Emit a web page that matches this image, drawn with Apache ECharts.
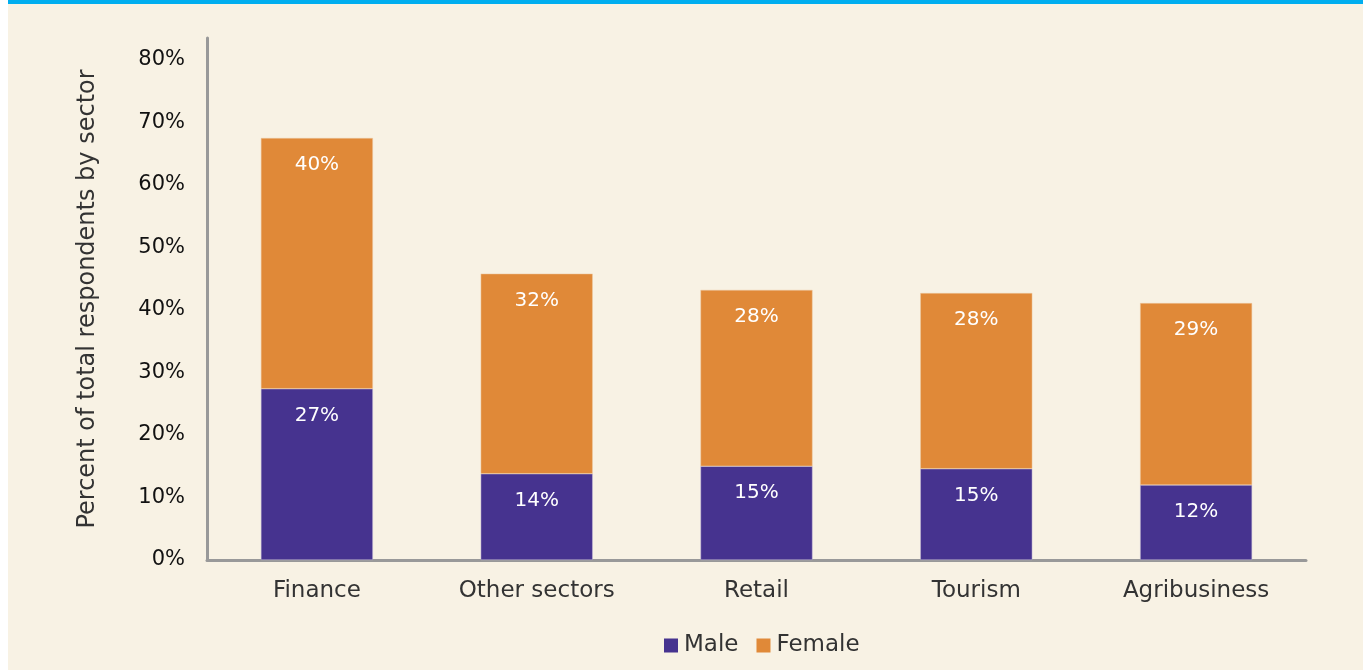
<!DOCTYPE html>
<html>
<head>
<meta charset="utf-8">
<script src="https://cdn.jsdelivr.net/npm/echarts@6/dist/echarts.min.js"></script>
<style>
  html, body { margin: 0; padding: 0; background: #ffffff; }
  #chart { position: absolute; left: 8px; top: 0; width: 1355px; height: 670px; background: #f8f2e4; }
</style>
</head>
<body>
<div id="chart"></div>
<script>
// 数据
const sectors = ["Finance", "Other sectors", "Retail", "Tourism", "Agribusiness"];
const maleValues = [27.4, 13.8, 15.0, 14.6, 12.0];
const femaleValues = [40.1, 32.0, 28.2, 28.1, 29.1];
const seriesNames = ["Male", "Female"];

const chart = echarts.init(document.getElementById("chart"));

const barLabel = {
  show: true,
  position: "insideTop",
  distance: 17,
  color: "#ffffff",
  fontSize: 20,
  fontFamily: "DejaVu Sans",
  formatter: (p) => Math.round(p.value) + "%",
};

const option = {
  backgroundColor: "#f8f2e4",
  textStyle: { fontFamily: "DejaVu Sans" },
  graphic: [
    {
      type: "rect",
      left: 0,
      top: 0,
      shape: { width: 1355, height: 4 },
      style: { fill: "#00aeef" },
    },
  ],
  legend: {
    left: 651,
    top: 629,
    itemWidth: 14,
    itemHeight: 14,
    itemGap: 18,
    icon: "rect",
    itemStyle: { borderWidth: 0 },
    textStyle: { fontSize: 23, color: "#333333", padding: [0, 0, 0, 1] },
    data: seriesNames,
  },
  grid: {
    left: 199,
    right: 57,
    top: 38,
    bottom: 110,
    containLabel: false,
  },
  xAxis: {
    type: "category",
    data: sectors,
    axisLine: { lineStyle: { color: "#999999", width: 3 } },
    axisTick: { show: false },
    axisLabel: { fontSize: 23, color: "#333333", margin: 20 },
  },
  yAxis: {
    type: "value",
    min: 0,
    max: 83.5,
    interval: 10,
    name: "Percent of total respondents by sector",
    nameLocation: "middle",
    nameGap: 107,
    nameTextStyle: { fontSize: 24, color: "#333333" },
    axisLine: { show: true, lineStyle: { color: "#999999", width: 3 } },
    axisTick: { show: false },
    splitLine: { show: false },
    axisLabel: {
      fontSize: 21,
      color: "#111111",
      margin: 22,
      formatter: (v) => (v % 10 === 0 ? v + "%" : ""),
    },
  },
  series: [
    {
      name: seriesNames[0],
      type: "bar",
      stack: "total",
      barWidth: 112,
      data: maleValues,
      itemStyle: { color: "#46338f", borderColor: "#c9bfd9", borderWidth: 0.5 },
      label: barLabel,
    },
    {
      name: seriesNames[1],
      type: "bar",
      stack: "total",
      barWidth: 112,
      data: femaleValues,
      itemStyle: { color: "#e08938", borderColor: "#edc9a0", borderWidth: 0.5 },
      label: barLabel,
    },
  ],
};

option && chart.setOption(option);
</script>
</body>
</html>
